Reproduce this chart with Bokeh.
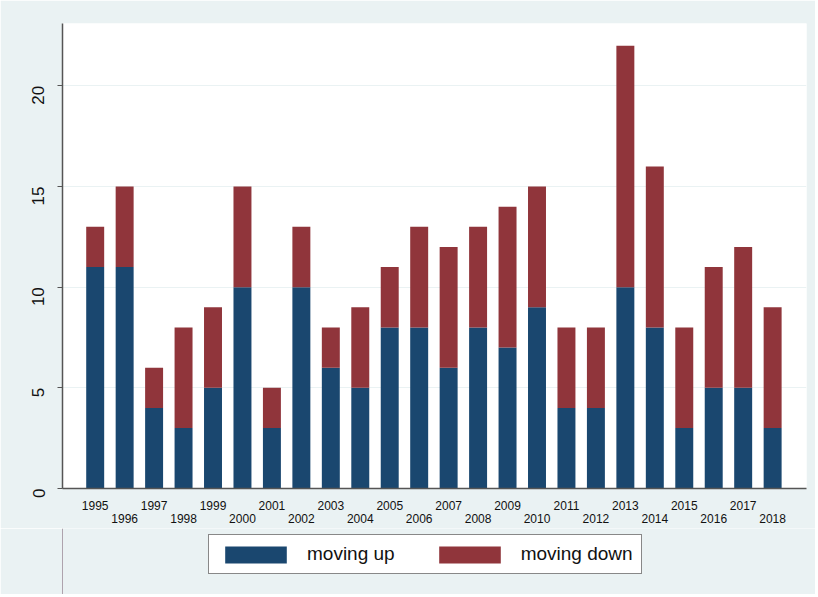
import math
from bokeh.plotting import figure
from bokeh.layouts import column
from bokeh.models import ColumnDataSource, FixedTicker, Legend, LegendItem, Range1d
from bokeh.embed import file_html
from bokeh.resources import INLINE

years = list(range(1995, 2019))
moving_up = [11, 11, 4, 3, 5, 10, 3, 10, 6, 5, 8, 8, 6, 8, 7, 9, 4, 4, 10, 8, 3, 5, 5, 3]
moving_down = [2, 4, 2, 5, 4, 5, 2, 3, 2, 4, 3, 5, 6, 5, 7, 6, 4, 4, 12, 8, 5, 6, 7, 6]
y_ticks = [0, 5, 10, 15, 20]
series_labels = ["moving up", "moving down"]
colors = ["#1A476F", "#90353B"]
BG = "#EAF2F3"

source = ColumnDataSource(dict(year=years, up=moving_up, down=moving_down))

p = figure(frame_width=744, frame_height=465, output_backend="svg", toolbar_location=None,
           x_range=Range1d(1993.89, 2019.15), y_range=Range1d(0, 23.1),
           min_border_left=62, min_border_right=9, min_border_top=23, min_border_bottom=38)
p.border_fill_color = BG
p.background_fill_color = "white"
p.outline_line_color = None

rs = p.vbar_stack(["up", "down"], x="year", width=0.61, source=source,
                  color=colors, line_color=None)

# axes
p.xaxis.ticker = FixedTicker(ticks=years)
p.xaxis.major_label_overrides = {y: (str(y) if i % 2 == 0 else "\n" + str(y)) for i, y in enumerate(years)}
p.xaxis.major_tick_out = 0
p.xaxis.major_tick_in = 0
p.xaxis.minor_tick_line_color = None
p.xaxis.axis_line_color = "#555555"
p.xaxis.axis_line_width = 1.5
p.xaxis.major_label_text_font = "Liberation Sans"
p.xaxis.major_label_text_font_size = "12px"
p.xaxis.major_label_text_line_height = 0.95
p.xaxis.major_label_text_color = "#111111"
p.xaxis.major_label_standoff = 10

p.yaxis.ticker = FixedTicker(ticks=y_ticks)
p.yaxis.major_tick_out = 5
p.yaxis.major_tick_in = 0
p.yaxis.minor_tick_line_color = None
p.yaxis.axis_line_color = "#555555"
p.yaxis.major_tick_line_color = "#555555"
p.yaxis.axis_line_width = 1.5
p.yaxis.major_label_orientation = math.pi / 2
p.yaxis.major_label_text_font = "Liberation Sans"
p.yaxis.major_label_text_font_size = "17px"
p.yaxis.major_label_text_color = "#111111"
p.yaxis.major_label_standoff = 19

p.xgrid.grid_line_color = None
p.ygrid.ticker = FixedTicker(ticks=y_ticks)
p.ygrid.grid_line_color = BG
p.ygrid.grid_line_width = 1

# legend strip below the chart (no axes, no grids)
lg = figure(width=815, height=66, frame_width=815, frame_height=66,
            output_backend="svg", toolbar_location=None,
            x_axis_location=None, y_axis_location=None,
            x_range=Range1d(0, 1), y_range=Range1d(0, 1),
            min_border=0, min_border_left=0, min_border_right=0,
            min_border_top=0, min_border_bottom=0)
lg.xgrid.visible = False
lg.ygrid.visible = False
lg.outline_line_color = None
lg.background_fill_color = BG
lg.border_fill_color = BG
d_up = lg.vbar(x=[-5], top=[1], width=0.5, color=colors[0], line_color=None)
d_down = lg.vbar(x=[-5], top=[1], width=0.5, color=colors[1], line_color=None)

legend = Legend(items=[LegendItem(label=series_labels[0], renderers=[d_up]),
                       LegendItem(label=series_labels[1], renderers=[d_down])],
                orientation="horizontal", location=(208, 20),
                glyph_width=77, glyph_height=21, label_standoff=13, spacing=36,
                padding=8, margin=0,
                label_text_font="Liberation Sans", label_text_font_size="19px",
                label_text_color="#111111",
                border_line_color="#111111", border_line_width=1.2,
                background_fill_color="white", background_fill_alpha=1.0)
lg.add_layout(legend, "center")

layout = column(p, lg, spacing=0)
open("out.html", "w").write(file_html(layout, INLINE))
